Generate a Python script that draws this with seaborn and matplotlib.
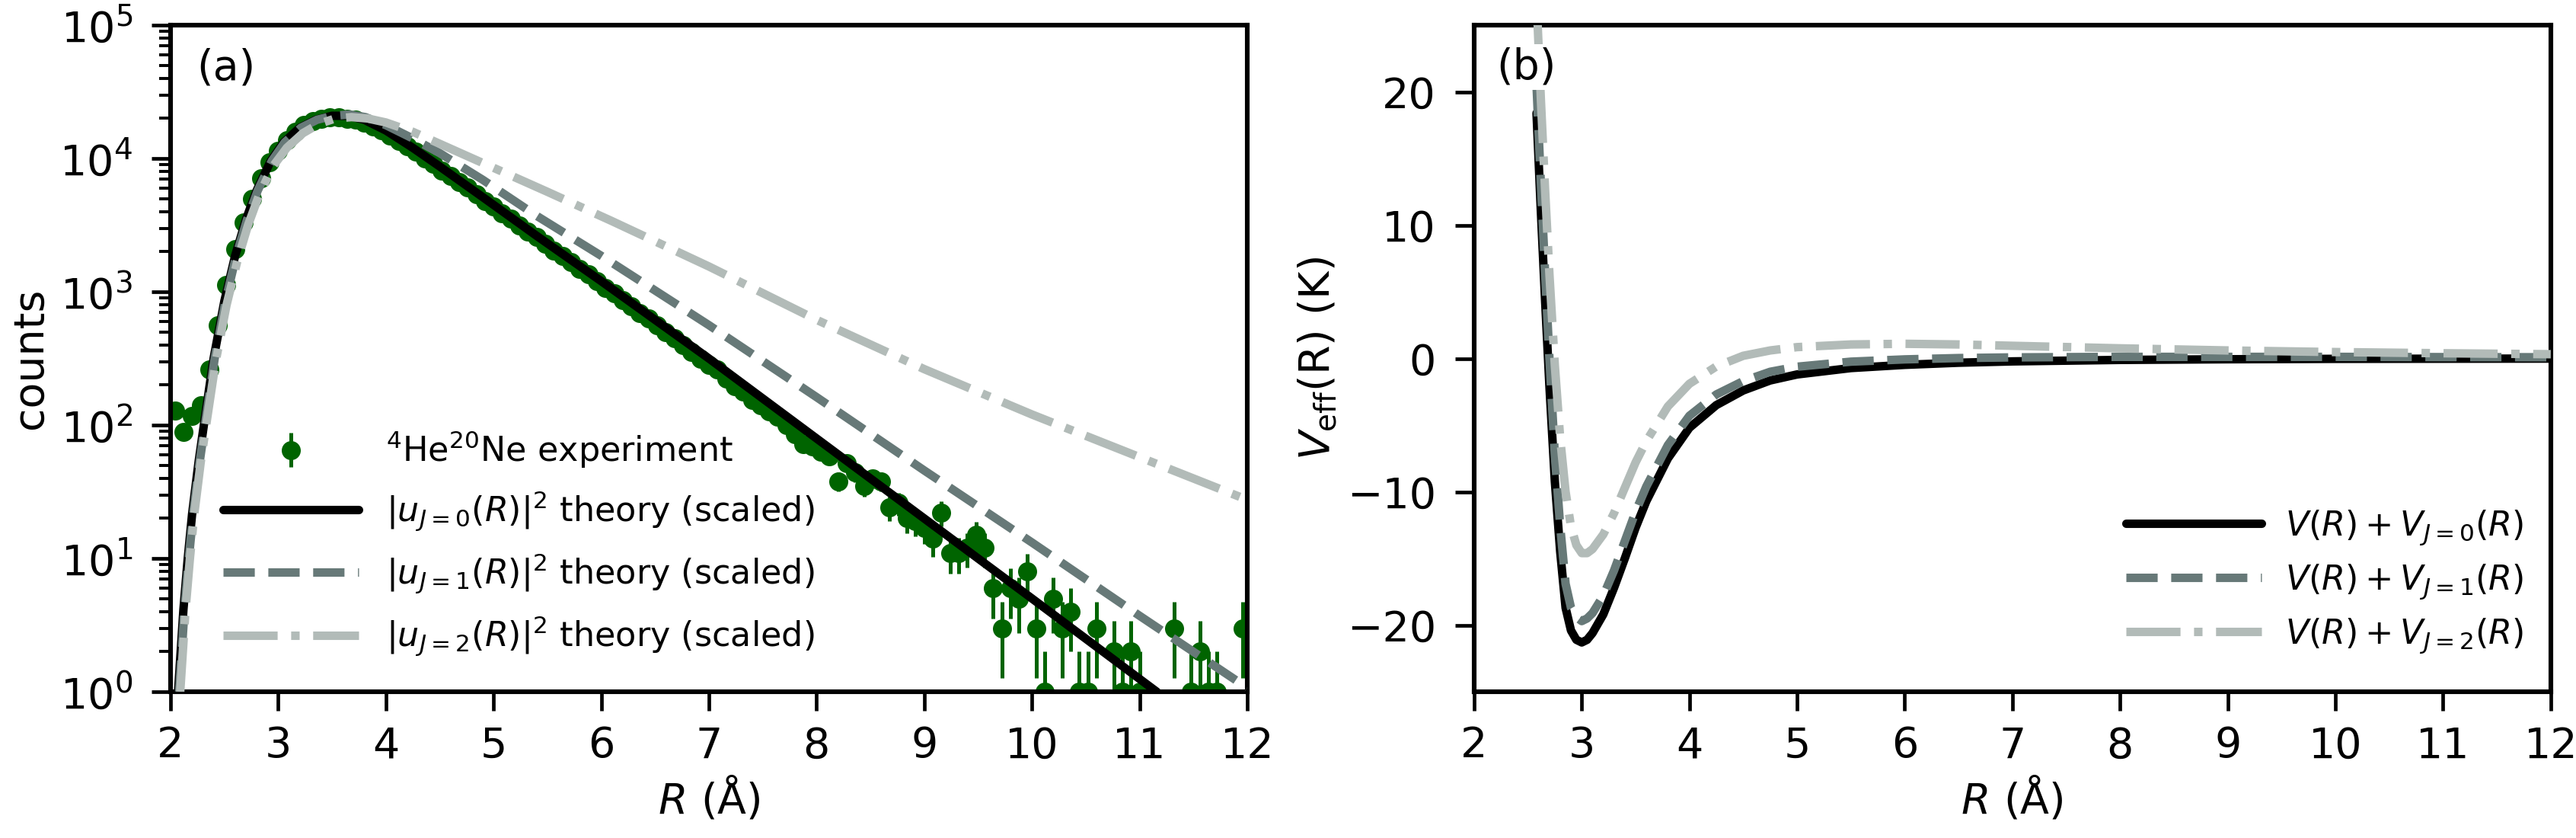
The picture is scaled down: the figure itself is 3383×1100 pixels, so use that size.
import numpy as np
import pandas as pd
import matplotlib.pyplot as plt
import seaborn as sns

# ------------------------------------------------------------
# (a) measured counts, 0.08 A bins
# ------------------------------------------------------------
r_exp = [
    2.04, 2.12, 2.20, 2.28, 2.36, 2.44, 2.52, 2.60, 2.68, 2.76,
    2.84, 2.92, 3.00, 3.08, 3.16, 3.24, 3.32, 3.40, 3.48, 3.56,
    3.64, 3.72, 3.80, 3.88, 3.96, 4.04, 4.12, 4.20, 4.28, 4.36,
    4.44, 4.52, 4.60, 4.68, 4.76, 4.84, 4.92, 5.00, 5.08, 5.16,
    5.24, 5.32, 5.40, 5.48, 5.56, 5.64, 5.72, 5.80, 5.88, 5.96,
    6.04, 6.12, 6.20, 6.28, 6.36, 6.44, 6.52, 6.60, 6.68, 6.76,
    6.84, 6.92, 7.00, 7.08, 7.16, 7.24, 7.32, 7.40, 7.48, 7.56,
    7.64, 7.72, 7.80, 7.88, 7.96, 8.04, 8.12, 8.20, 8.28, 8.36,
    8.44, 8.52, 8.60, 8.68, 8.76, 8.84, 8.92, 9.00, 9.08, 9.16,
    9.24, 9.32, 9.40, 9.48, 9.56, 9.64, 9.72, 9.80, 9.88, 9.96,
    10.04, 10.12, 10.20, 10.28, 10.36, 10.44, 10.52, 10.60, 10.68, 10.76,
    10.84, 10.92, 11.00, 11.08, 11.16, 11.24, 11.32, 11.40, 11.48, 11.56,
    11.64, 11.72, 11.80, 11.88, 11.96,
]
counts = [
    129, 89, 117, 141, 263, 562, 1122, 2089, 3311, 5012,
    7079, 9333, 11482, 13800, 15850, 17780, 19050, 19950, 20400, 20400,
    19950, 19500, 18600, 17380, 16220, 14800, 13490, 12300, 11220, 10000,
    9120, 8130, 7410, 6610, 6030, 5370, 4790, 4365, 3890, 3550,
    3160, 2820, 2570, 2290, 2040, 1860, 1660, 1480, 1350, 1200,
    1070, 977, 871, 776, 692, 631, 562, 501, 447, 398,
    355, 316, 282, 263, 224, 195, 178, 155, 141, 126,
    115, 100, 85, 72, 69, 63, 58, 38, 52, 44,
    35, 40, 38, 24, 26, 20, 19, 17, 14, 22,
    11, 11, 12, 15, 12, 6, 3, 6, 5, 8,
    3, 1, 5, 3, 4, 1, 1, 3, 0, 2,
    1, 2, 1, 0, 0, 0, 3, 0, 1, 2,
    1, 1, 0, 0, 3,
]

# scaled |u_J(R)|^2 theory curves (log10 of counts)
r_u0 = [2.07, 2.12, 2.16, 2.20, 2.26, 2.32, 2.40, 2.50, 2.60, 2.70, 2.80, 2.93, 3.05, 3.20, 3.35,
        3.50, 3.65, 3.80, 4.00, 4.25, 4.50, 4.90, 5.40, 6.00, 7.00, 8.00, 9.00, 10.00, 11.16]
log_u0 = [0.00, 0.62, 1.00, 1.33, 1.72, 2.06, 2.50, 2.93, 3.27, 3.54, 3.76, 3.98, 4.12, 4.23, 4.29,
          4.32, 4.32, 4.29, 4.21, 4.08, 3.94, 3.71, 3.42, 3.08, 2.50, 1.90, 1.30, 0.70, 0.00]

r_u1 = [2.08, 2.13, 2.17, 2.21, 2.27, 2.33, 2.41, 2.51, 2.61, 2.71, 2.81, 2.94, 3.06, 3.21, 3.36,
        3.51, 3.66, 3.81, 4.00, 4.25, 4.50, 4.90, 5.40, 6.00, 7.00, 8.00, 9.00, 10.00, 11.00, 12.00]
log_u1 = [0.00, 0.62, 1.00, 1.33, 1.72, 2.06, 2.50, 2.93, 3.27, 3.54, 3.76, 3.98, 4.12, 4.23, 4.29,
          4.32, 4.33, 4.31, 4.25, 4.15, 4.04, 3.84, 3.57, 3.27, 2.75, 2.21, 1.66, 1.12, 0.57, 0.03]

r_u2 = [2.09, 2.14, 2.18, 2.22, 2.28, 2.34, 2.42, 2.52, 2.62, 2.72, 2.82, 2.95, 3.08, 3.23, 3.38,
        3.53, 3.68, 3.83, 4.00, 4.25, 4.50, 5.00, 5.50, 6.10, 7.00, 8.00, 9.00, 10.00, 11.00, 12.00]
log_u2 = [0.00, 0.62, 1.00, 1.33, 1.72, 2.05, 2.48, 2.90, 3.23, 3.50, 3.72, 3.94, 4.08, 4.19, 4.26,
          4.30, 4.31, 4.30, 4.27, 4.20, 4.11, 3.93, 3.75, 3.53, 3.19, 2.79, 2.42, 2.08, 1.76, 1.44]

# ------------------------------------------------------------
# (b) effective potentials (K)
# ------------------------------------------------------------
r_v = [2.58, 2.62, 2.66, 2.70, 2.75, 2.80, 2.85, 2.90, 2.95, 3.00, 3.05, 3.10, 3.20, 3.30, 3.40,
       3.50, 3.60, 3.80, 4.00, 4.25, 4.50, 4.75, 5.00, 5.50, 6.00, 6.50, 7.00, 8.00, 9.00, 10.0,
       11.0, 12.0]
v_j0 = [18.4, 11.1, 4.3, -2.1, -9.2, -14.5, -18.7, -20.4, -21.1, -21.3, -21.1, -20.6, -19.2, -17.2, -15.0,
        -12.7, -10.7, -7.5, -5.2, -3.5, -2.4, -1.65, -1.2, -0.72, -0.48, -0.32, -0.22, -0.11, -0.06, -0.03,
        -0.02, -0.01]
v_j1 = [20.5, 13.2, 6.4, 0.0, -7.2, -12.6, -16.9, -18.7, -19.4, -19.7, -19.5, -19.1, -17.8, -15.9, -13.7,
        -11.5, -9.6, -6.5, -4.3, -2.7, -1.7, -1.0, -0.62, -0.24, -0.07, 0.03, 0.08, 0.12, 0.12, 0.12,
        0.10, 0.09]
v_j2 = [27.0, 19.5, 12.6, 6.3, -0.5, -6.0, -10.0, -12.6, -14.0, -14.6, -14.6, -14.3, -13.2, -11.6, -9.7,
        -7.8, -6.2, -3.6, -1.9, -0.6, 0.2, 0.6, 0.85, 1.05, 1.1, 1.05, 0.95, 0.76, 0.6, 0.48,
        0.39, 0.32]

labels_a = [r"$^4$He$^{20}$Ne experiment",
            r"$|u_{J=0}(R)|^2$ theory (scaled)",
            r"$|u_{J=1}(R)|^2$ theory (scaled)",
            r"$|u_{J=2}(R)|^2$ theory (scaled)"]
labels_b = [r"$V(R)+V_{J=0}(R)$", r"$V(R)+V_{J=1}(R)$", r"$V(R)+V_{J=2}(R)$"]

green = "#006400"
styles = [("black", "-"), ("#677978", "--"), ("#b2bbb8", "-.")]

sns.set_style("ticks")
plt.rcParams.update({
    "font.family": ["DejaVu Sans"],
    "mathtext.fontset": "dejavusans",
    "text.color": "black",
    "axes.labelcolor": "black",
    "axes.edgecolor": "black",
    "axes.linewidth": 2.2,
    "axes.labelsize": 20,
    "xtick.color": "black",
    "ytick.color": "black",
    "xtick.labelsize": 20,
    "ytick.labelsize": 20,
    "xtick.direction": "out",
    "ytick.direction": "out",
    "xtick.major.size": 9,
    "ytick.major.size": 9,
    "xtick.major.width": 1.7,
    "ytick.major.width": 1.7,
    "xtick.minor.size": 5.4,
    "ytick.minor.size": 5.4,
    "xtick.minor.width": 1.4,
    "ytick.minor.width": 1.4,
    "xtick.major.pad": 7,
    "ytick.major.pad": 9,
    "legend.fontsize": 16,
})

fig, (ax1, ax2) = plt.subplots(1, 2, figsize=(16.915, 5.5), dpi=200)
fig.subplots_adjust(left=0.0662, right=0.9902, bottom=0.1745, top=0.970, wspace=0.2107)

# --- panel (a) ---
exp = pd.DataFrame({"R": r_exp, "counts": counts})
exp = exp[exp["counts"] > 0]
eb = ax1.errorbar(exp["R"], exp["counts"], yerr=np.sqrt(exp["counts"]), fmt="o", color=green,
                  ms=8, elinewidth=1.8, capsize=0, zorder=1)

theory = [(r_u0, log_u0), (r_u1, log_u1), (r_u2, log_u2)]
handles_a = [eb]
for (r, lg), (c, ls) in zip(theory, styles):
    sns.lineplot(x=r, y=10 ** np.array(lg), ax=ax1, color=c, linestyle=ls, lw=4,
                 sort=False, zorder=3)
    handles_a.append(ax1.lines[-1])

ax1.set_yscale("log")
ax1.set_xlim(2, 12)
ax1.set_ylim(1, 1e5)
ax1.set_xticks(range(2, 13))
ax1.set_xlabel(r"$R$ (Å)")
ax1.set_ylabel("counts")
ax1.legend(handles_a, labels_a, loc="lower left", bbox_to_anchor=(0.049, 0.05), frameon=False,
           handlelength=4.0, handletextpad=0.8, labelspacing=0.56, borderaxespad=0, borderpad=0)
ax1.text(0.024, 0.935, "(a)", transform=ax1.transAxes, fontsize=20, va="center", ha="left",
         bbox=dict(facecolor="white", edgecolor="none", pad=1), zorder=10)

# --- panel (b) ---
handles_b = []
for v, (c, ls) in zip([v_j0, v_j1, v_j2], styles):
    sns.lineplot(x=r_v, y=v, ax=ax2, color=c, linestyle=ls, lw=4, sort=False, zorder=3)
    handles_b.append(ax2.lines[-1])

ax2.set_xlim(2, 12)
ax2.set_ylim(-25, 25)
ax2.set_xticks(range(2, 13))
ax2.set_yticks([-20, -10, 0, 10, 20])
ax2.set_xlabel(r"$R$ (Å)")
ax2.set_ylabel(r"$V_{\rm eff}$(R) (K)")
ax2.legend(handles_b, labels_b, loc="lower right", bbox_to_anchor=(0.975, 0.055), frameon=False,
           handlelength=4.0, handletextpad=0.7, labelspacing=0.45, borderaxespad=0, borderpad=0)
ax2.text(0.021, 0.937, "(b)", transform=ax2.transAxes, fontsize=20, va="center", ha="left",
         bbox=dict(facecolor="white", edgecolor="none", pad=1), zorder=10)

fig.savefig("out.png", dpi=200)
